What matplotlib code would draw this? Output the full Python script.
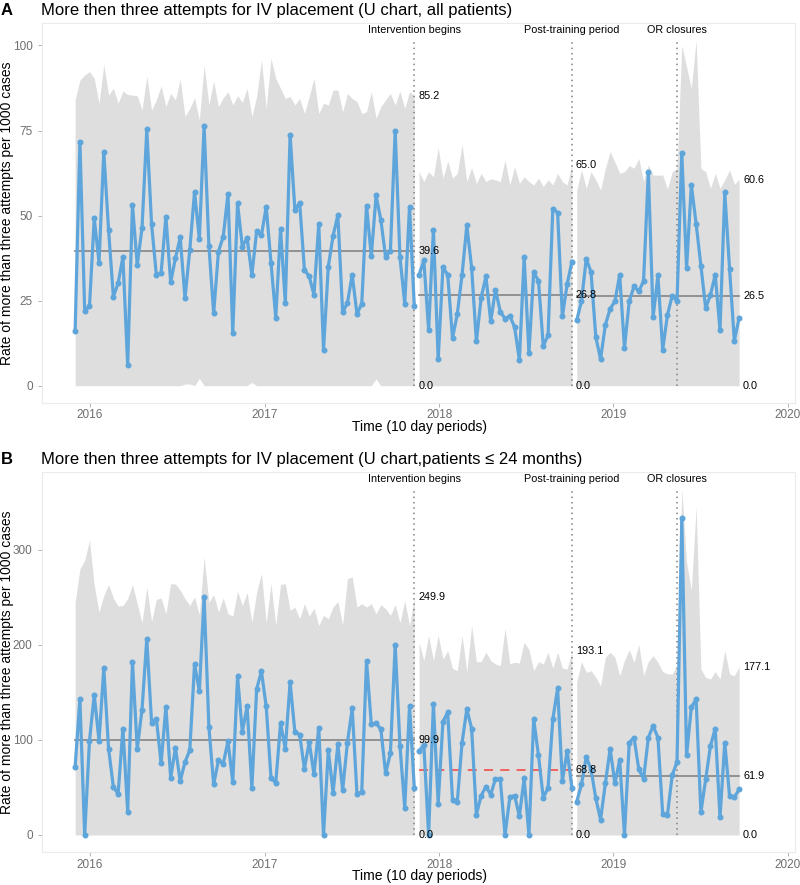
import numpy as np
import matplotlib
matplotlib.use("Agg")
import matplotlib.pyplot as plt
import matplotlib.dates as mdates

plt.rcParams['font.family'] = ['Liberation Sans', 'DejaVu Sans']

# 10-day periods starting 2015-12-01, 140 periods
start = np.datetime64('2015-12-01')
n_periods = 140
phases = [(0, 72), (72, 105), (105, 140)]
events = [(71, "Intervention begins"), (104, "Post-training period"), (126, "OR closures")]

# ---- panel A: all patients ----
rate_a = [16.2, 71.7, 22.1, 23.3, 49.2, 36.2, 68.6, 45.8, 26.2, 30.1, 37.8, 6.0, 53.1, 35.5, 46.3, 75.3,
          47.5, 32.6, 33.1, 49.7, 30.4, 37.5, 43.6, 25.7, 39.9, 57.0, 43.1, 76.4, 41.2, 21.3, 39.4, 43.8,
          56.4, 15.5, 53.6, 40.9, 43.4, 32.6, 45.4, 44.2, 52.6, 36.2, 20.0, 46.0, 24.3, 73.8, 51.7, 53.8,
          34.1, 32.1, 26.7, 47.5, 10.6, 35.0, 44.1, 50.1, 21.6, 24.3, 32.6, 21.1, 24.1, 52.9, 38.0, 55.9,
          48.7, 37.8, 39.7, 74.9, 37.8, 24.1, 52.6, 23.3,
          32.6, 36.8, 16.4, 45.8, 7.8, 34.8, 32.6, 14.0, 21.0, 32.6, 47.1, 34.7, 13.0, 25.9, 32.1, 18.9,
          28.2, 21.8, 19.7, 20.5, 17.2, 7.6, 37.8, 9.6, 33.4, 30.8, 11.7, 14.8, 52.0, 50.9, 20.4, 29.8, 36.5,
          19.2, 24.8, 37.3, 33.4, 14.3, 7.8, 17.9, 22.6, 24.8, 32.6, 11.1, 24.8, 29.2, 27.7, 30.8, 62.9,
          20.2, 32.4, 10.6, 20.8, 26.5, 24.8, 68.3, 34.5, 59.0, 47.6, 35.3, 22.8, 26.7, 32.6, 16.4, 56.8,
          34.3, 13.2, 19.9]
ucl_a = [84.0, 89.8, 91.3, 92.3, 90.3, 83.0, 94.4, 85.4, 87.4, 83.0, 86.6, 85.6, 85.4, 85.2, 81.0, 91.0,
         81.0, 84.0, 88.1, 82.0, 85.9, 84.0, 90.1, 79.1, 81.5, 84.6, 78.1, 94.2, 82.5, 89.5, 82.0, 84.6,
         86.4, 82.5, 85.2, 83.3, 87.4, 79.1, 85.0, 95.7, 81.5, 96.2, 90.3, 87.4, 84.4, 85.0, 82.5, 84.4,
         80.0, 85.0, 90.3, 80.0, 83.0, 82.5, 86.9, 86.9, 80.5, 85.9, 84.4, 83.5, 80.0, 80.5, 86.4, 78.6,
         82.0, 84.0, 85.9, 82.5, 86.6, 81.5, 86.4, 85.2,
         62.9, 60.0, 62.9, 61.4, 70.0, 61.0, 66.0, 61.0, 62.4, 70.9, 60.0, 64.1, 59.5, 62.4, 60.0, 60.8,
         60.5, 60.0, 66.3, 59.0, 64.4, 59.5, 61.4, 60.0, 59.0, 61.0, 58.5, 60.5, 59.0, 62.4, 60.0, 59.0, 65.0,
         57.5, 63.4, 58.0, 62.9, 60.5, 57.5, 63.9, 68.8, 65.7, 62.4, 62.9, 64.7, 63.9, 66.8, 60.0, 64.9,
         61.9, 61.9, 61.9, 57.8, 62.9, 63.9, 100.0, 93.7, 87.4, 101.6, 63.9, 62.9, 58.0, 62.4, 58.0, 60.5,
         63.4, 59.2, 60.6]
lcl_a = [0.0] * n_periods
for i, v in [(23, 0.5), (24, 0.5), (26, 2.2), (37, 1.0), (63, 2.0)]:
    lcl_a[i] = v
cl_a = [39.6, 26.8, 26.5]

# ---- panel B: patients <= 24 months ----
rate_b = [71.8, 143.0, 0.0, 98.9, 147.5, 98.9, 175.4, 90.8, 50.7, 43.3, 112.0, 24.6, 182.0, 90.8, 131.7,
          206.3, 118.3, 122.5, 75.4, 134.9, 60.2, 91.5, 56.7, 76.8, 89.1, 179.9, 151.1, 250.4, 113.7, 53.2,
          78.5, 75.0, 98.6, 55.6, 166.9, 108.5, 135.2, 49.6, 153.5, 172.2, 135.2, 60.2, 54.9, 117.6, 90.8,
          160.6, 108.5, 105.6, 69.7, 97.9, 63.7, 113.0, 0.0, 89.4, 44.4, 95.4, 47.2, 97.2, 133.1, 43.3,
          45.4, 183.5, 116.5, 117.6, 111.3, 64.8, 85.9, 200.4, 93.7, 28.5, 135.9, 49.6,
          88.4, 94.7, 0.0, 137.7, 33.1, 119.4, 128.9, 37.3, 34.9, 97.2, 132.4, 112.0, 21.5, 41.5, 50.7,
          42.6, 59.2, 58.5, 0.0, 39.8, 41.5, 19.7, 59.5, 0.0, 121.8, 83.8, 39.1, 49.6, 121.8, 154.2, 56.7,
          88.4, 49.6,
          34.9, 53.2, 82.0, 69.0, 38.4, 16.2, 54.2, 90.8, 54.2, 78.9, 0.0, 97.2, 102.5, 69.0, 59.2, 102.5,
          114.8, 102.5, 22.2, 21.5, 63.0, 76.8, 333.1, 83.8, 134.2, 143.0, 23.9, 58.5, 93.7, 112.0, 18.7,
          97.2, 40.8, 39.8, 47.9]
ucl_b = [245.0, 280.0, 289.0, 310.0, 262.7, 234.5, 252.0, 263.4, 249.3, 240.8, 241.5, 248.6, 263.4, 243.3,
         223.2, 260.9, 224.6, 247.9, 249.3, 232.7, 264.4, 264.0, 257.4, 248.6, 241.5, 250.4, 231.7, 292.6,
         245.0, 252.8, 234.5, 249.3, 232.7, 230.3, 256.3, 241.5, 254.9, 223.9, 255.6, 275.0, 223.2, 264.4,
         220.4, 263.4, 264.4, 236.3, 239.8, 227.5, 243.3, 230.3, 238.7, 220.4, 231.0, 227.5, 239.8, 245.8,
         221.1, 269.7, 271.5, 239.8, 243.3, 239.8, 243.3, 232.7, 242.3, 238.0, 231.0, 242.3, 223.2, 246.8,
         220.4, 249.9,
         202.8, 183.5, 209.9, 183.5, 209.9, 185.2, 194.0, 175.4, 172.9, 209.9, 171.8, 220.4, 182.4, 182.4,
         192.3, 183.5, 179.9, 178.2, 217.6, 179.9, 181.7, 181.0, 202.8, 195.1, 172.9, 182.4, 179.9, 192.3,
         175.4, 192.3, 175.4, 174.6, 193.1,
         160.6, 182.4, 171.1, 172.9, 165.8, 157.0, 187.0, 192.3, 187.0, 167.6, 183.5, 195.1, 181.7, 200.4,
         167.6, 182.4, 188.7, 181.7, 171.8, 169.4, 169.4, 178.2, 364.0, 287.3, 257.4, 345.4, 174.6, 165.8,
         164.1, 171.8, 164.1, 194.0, 169.4, 167.6, 177.1]
lcl_b = [0.0] * n_periods
cl_b = [99.9, 68.8, 61.9]
cl_b_signal = [False, True, False]

dates = start + np.arange(n_periods) * np.timedelta64(10, 'D')

BLUE = '#5DA5DA'
GREY = '#8C8C8C'
BAND = '#DEDEDE'
RED = '#F15854'

fig = plt.figure(figsize=(8, 8.85), dpi=100)
W, H = 800, 885


def panel(top, bottom, rate, ucl, lcl, cl, signal, title, letter, yticks):
    ax = fig.add_axes([41.7 / W, 1 - bottom / H, (795 - 41.7) / W, (bottom - top) / H])
    rate = np.array(rate)
    ucl = np.array(ucl)
    lcl = np.array(lcl)
    ymax = max(ucl.max(), rate.max())
    for k, (a, b) in enumerate(phases):
        d = dates[a:b]
        ax.fill_between(d, lcl[a:b], ucl[a:b], color=BAND, lw=0, zorder=1)
        if signal[k]:
            ax.plot([d[0], d[-1]], [cl[k], cl[k]], color=RED, lw=1.3, ls=(0, (5, 4)), zorder=2)
        else:
            ax.plot([d[0], d[-1]], [cl[k], cl[k]], color=GREY, lw=1.3, zorder=2)
        ax.plot(d, rate[a:b], color=BLUE, lw=2.3, marker='o', ms=3.3, zorder=3)
        for v in (ucl[b - 1], cl[k], lcl[b - 1]):
            ax.annotate(f"{v:.1f}", (d[-1], v), xytext=(4, 0), textcoords='offset pixels',
                        ha='left', va='center', fontsize=7.8, color='black', zorder=4)
    for idx, txt in events:
        ax.plot([dates[idx], dates[idx]], [0, ymax], color='#808080', lw=1.1,
                ls=(0, (1, 2.5)), zorder=2)
        ax.text(dates[idx], 0.98, txt, transform=ax.get_xaxis_transform(),
                ha='center', va='center', fontsize=7.8, color='black')
    ax.set_ylim(-0.05 * ymax, 1.05 * ymax)
    ax.set_xlim(start - np.timedelta64(70, 'D'), start + np.timedelta64(1507, 'D'))
    ax.set_yticks(yticks)
    ax.xaxis.set_major_locator(mdates.YearLocator())
    ax.xaxis.set_major_formatter(mdates.DateFormatter('%Y'))
    ax.tick_params(colors='#B3B3B3', labelcolor='#6E6E6E', labelsize=8.5, length=3, width=0.7)
    ax.tick_params(axis='x', pad=1.5)
    for s in ax.spines.values():
        s.set_color('#EBEBEB')
        s.set_linewidth(0.8)
    mid = (top + bottom) / 2
    fig.text(7 / W, 1 - mid / H, "Rate of more than three attempts per 1000 cases",
             rotation=90, fontsize=10, ha='center', va='center')
    fig.text(419 / W, 1 - (bottom + 24) / H, "Time (10 day periods)",
             fontsize=10, ha='center', va='center')
    fig.text(41 / W, 1 - (top - 12.5) / H, title, fontsize=12, ha='left', va='center')
    fig.text(1 / W, 1 - (top - 12.5) / H, letter, fontsize=12, fontweight='bold', ha='left', va='center')
    return ax


panel(22.7, 403, rate_a, ucl_a, lcl_a, cl_a, [False, False, False],
      "More then three attempts for IV placement (U chart, all patients)", "A", [0, 25, 50, 75, 100])
panel(471.7, 852.3, rate_b, ucl_b, lcl_b, cl_b, cl_b_signal,
      "More then three attempts for IV placement (U chart,patients \u2264 24 months)", "B", [0, 100, 200, 300])

fig.savefig("out.png", dpi=100)
